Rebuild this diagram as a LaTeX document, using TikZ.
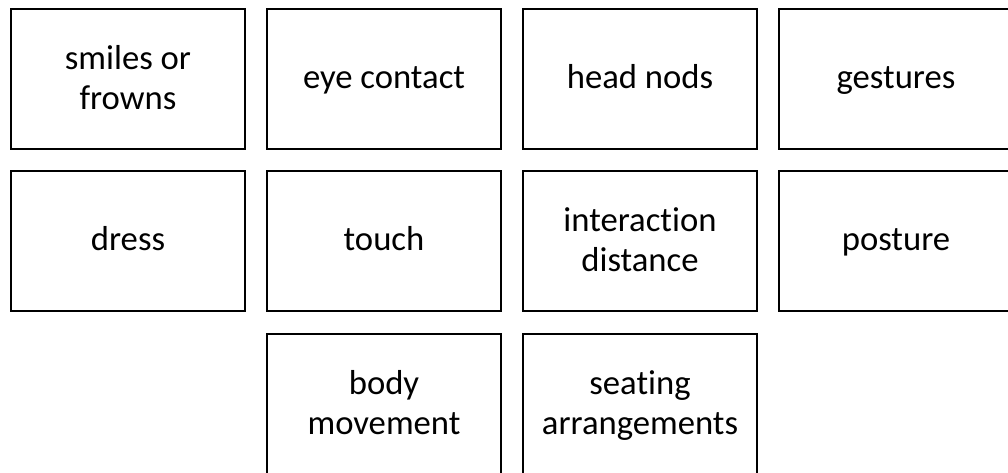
\documentclass[tikz,border=0pt]{standalone}
\usepackage{fontspec}
\setmainfont[Ligatures=NoCommon]{Carlito}
\begin{document}
\begin{tikzpicture}[x=0.75pt,y=-0.75pt,
  card/.style={draw=black, line width=1.6pt, rectangle, inner sep=0pt,
    minimum width=175.5pt, minimum height=105pt, align=center,
    font=\fontsize{26}{30}\selectfont, text height=19.5pt, text depth=6pt},
  twoline/.style={card, text height=49.5pt, text depth=4.5pt}]
\useasboundingbox (0,0) rectangle (1008,472);
\clip (0,0) rectangle (1008,472);
% first row
\node[twoline] (smiles)  at (128,79)  {smiles or\\frowns};
\node[card]    (eye)     at (384,79)  {eye contact};
\node[card]    (nods)    at (640,79)  {head nods};
\node[card]    (gest)    at (896,79)  {gestures};
% second row
\node[card]    (dress)   at (128,241) {dress};
\node[card]    (touch)   at (384,241) {touch};
\node[twoline] (dist)    at (640,241) {interaction\\distance};
\node[card]    (posture) at (896,241) {posture};
% third row
\node[twoline] (body)    at (384,404) {body\\movement};
\node[twoline] (seating) at (640,404) {seating\\arrangements};
\end{tikzpicture}
\end{document}
